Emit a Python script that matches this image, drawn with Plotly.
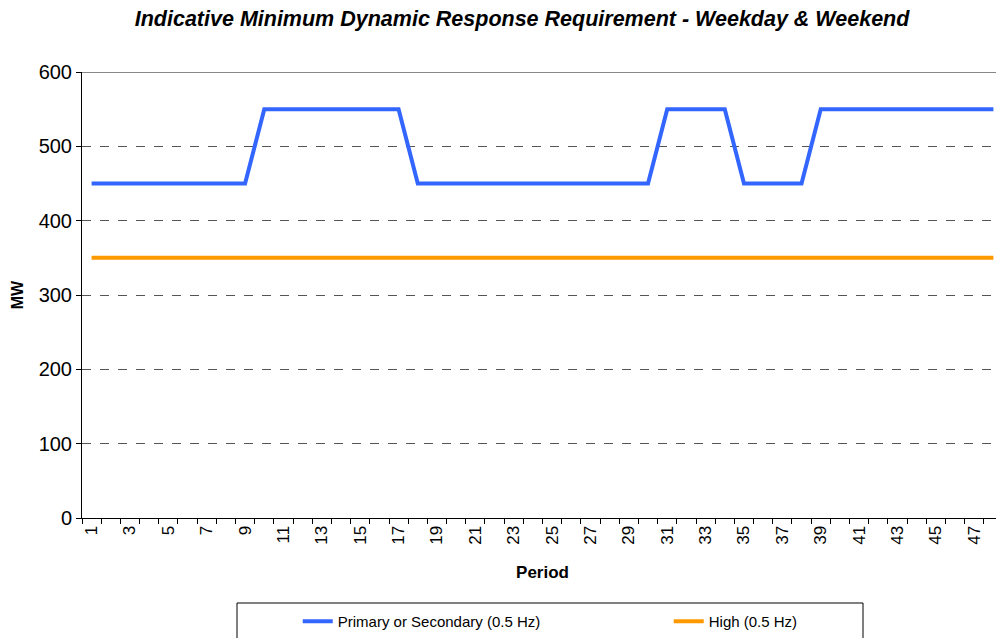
import plotly.graph_objects as go

periods = list(range(1, 49))
primary_secondary = [450]*9 + [550]*8 + [450]*13 + [550]*4 + [450]*4 + [550]*10
high = [350]*48
tick_labels = [str(p) for p in periods if p % 2 == 1]
y_ticks = [0, 100, 200, 300, 400, 500, 600]

fig = go.Figure()
fig.add_trace(go.Scatter(x=periods, y=primary_secondary, mode="lines",
                         name="Primary or Secondary (0.5 Hz)",
                         line=dict(color="#3366FF", width=4)))
fig.add_trace(go.Scatter(x=periods, y=high, mode="lines",
                         name="High (0.5 Hz)",
                         line=dict(color="#FF9900", width=4)))

font = "Arial, Liberation Sans, sans-serif"
fig.update_layout(
    width=1004, height=638,
    margin=dict(l=74, r=9, t=64, b=128, autoexpand=False),
    paper_bgcolor="white", plot_bgcolor="white",
    font=dict(family=font, color="black", size=18),
    title=dict(text="<b><i>Indicative Minimum Dynamic Response Requirement - Weekday &amp; Weekend</i></b>",
               x=0.512, xref="container", xanchor="center", y=0.984, yref="container",
               yanchor="middle", font=dict(size=21.5, family=font), automargin=False),
    showlegend=True,
    legend=dict(orientation="h", x=0.168, xanchor="left", y=-0.195, yanchor="top",
                borderwidth=0, font=dict(size=15, family=font),
                entrywidth=265, entrywidthmode="pixels", itemwidth=30,
                indentation=61, bgcolor="rgba(0,0,0,0)"),
    xaxis=dict(range=[0.5, 48.5], tickmode="array",
               tickvals=[p for p in periods if p % 2 == 1], ticktext=tick_labels,
               tickangle=-90, ticks="", showgrid=False, zeroline=False,
               showline=True, linecolor="black", linewidth=1, automargin=False,
               tickfont=dict(size=17),
               minor=dict(tickmode="array", tickvals=[p - 0.5 for p in periods] + [48.5],
                          ticks="outside", ticklen=5, tickcolor="black", showgrid=False),
               title=dict(text="<b>Period</b>", font=dict(size=17), standoff=22)),
    yaxis=dict(range=[0, 600], tickmode="array", tickvals=y_ticks,
               ticks="outside", ticklen=5, tickcolor="black", automargin=False,
               showline=True, linecolor="black", linewidth=1,
               showgrid=True, gridcolor="#555555", griddash="dash", gridwidth=1,
               zeroline=False, tickfont=dict(size=20),
               title=dict(text="<b>MW</b>", font=dict(size=16), standoff=11)),
)
fig.add_shape(type="line", xref="paper", yref="y", x0=0, x1=1, y0=600, y1=600,
              line=dict(color="#888888", width=2))
fig.add_shape(type="rect", xref="paper", yref="paper",
              x0=(237 - 82) / 921, x1=(863 - 82) / 921,
              y0=-(603 - 518) / 446, y1=-(645 - 518) / 446,
              line=dict(color="black", width=1), fillcolor="rgba(0,0,0,0)")
fig.write_html("out.html")
